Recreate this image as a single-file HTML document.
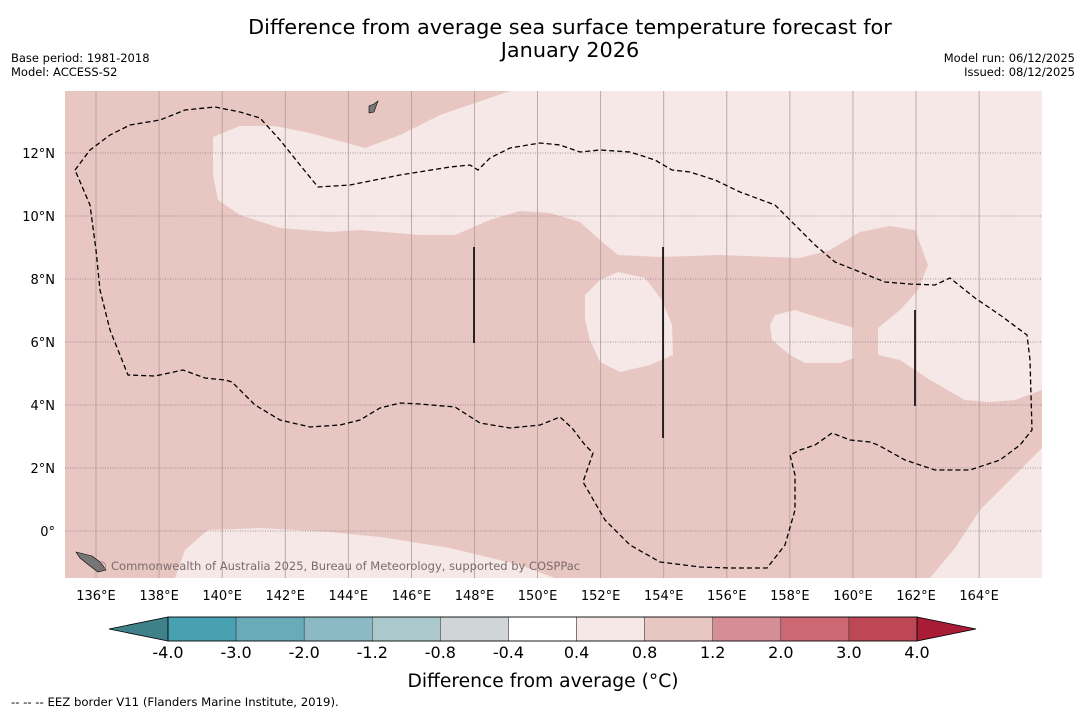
<!DOCTYPE html>
<html><head><meta charset="utf-8"><style>
body{margin:0;background:#fff;font-family:"DejaVu Sans","Liberation Sans",sans-serif;}
svg{display:block}
</style></head><body>
<svg width="1085" height="713" id="chart" font-family="DejaVu Sans, Liberation Sans, sans-serif">
<text x="570" y="34" font-size="20.8" text-anchor="middle">Difference from average sea surface temperature forecast for</text>
<text x="570" y="57" font-size="20.8" text-anchor="middle">January 2026</text>
<text x="11" y="62" font-size="11.5">Base period: 1981-2018</text>
<text x="11" y="76" font-size="11.5">Model: ACCESS-S2</text>
<text x="1075" y="62" font-size="11.5" text-anchor="end">Model run: 06/12/2025</text>
<text x="1075" y="76" font-size="11.5" text-anchor="end">Issued: 08/12/2025</text>
<g id="map"></g>
<g id="cbar"></g>
<text x="543" y="687" font-size="18.7" text-anchor="middle">Difference from average (°C)</text>
<text x="11" y="706" font-size="11.7">--  --  -- EEZ border V11 (Flanders Marine Institute, 2019).</text>
</svg>
<script>
const lonTicks=[136,138,140,142,144,146,148,150,152,154,156,158,160,162,164];
const latTicks=[0,2,4,6,8,10,12];
const cbarLevels=["-4.0","-3.0","-2.0","-1.2","-0.8","-0.4","0.4","0.8","1.2","2.0","3.0","4.0"];
const cbarColors=["#48a1b1","#69abb9","#8bb9c4","#abc9cd","#d0d5d7","#ffffff","#f5e8e6","#e8c7c3","#d68e96","#cb6873","#be4756"];
const lightRegionTop=[[213,137],[240,126],[275,126],[310,133],[365,148],[400,135],[440,115],[510,91],[1042,91],[1042,390],[1015,400],[990,402],[965,400],[930,380],[900,360],[878,355],[878,328],[900,310],[918,290],[928,265],[915,230],[890,226],[860,232],[830,250],[800,258],[720,255],[660,257],[618,255],[600,240],[580,222],[550,213],[520,211],[490,220],[455,235],[420,235],[360,230],[330,232],[280,228],[240,215],[218,200],[213,175]];
const lightIsland1=[[585,295],[600,280],[618,272],[645,278],[662,300],[672,325],[673,355],[650,365],[620,372],[600,362],[590,340],[585,320]];
const lightIsland2=[[770,325],[775,315],[795,310],[820,318],[854,328],[854,358],[840,363],[805,363],[790,355],[772,340]];
const lightBottomRight=[[1042,448],[1010,480],[980,510],[955,548],[930,578],[1042,578]];
const lightBottomLeft=[[175,578],[185,550],[208,530],[260,528],[330,532],[380,537],[450,548],[520,565],[555,578]];
const eez=[[75,170],[90,150],[110,135],[130,125],[160,120],[185,110],[215,107],[240,112],[260,118],[280,140],[300,165],[318,187],[350,185],[400,175],[450,167],[470,165],[478,170],[490,158],[510,148],[540,143],[560,145],[580,152],[600,150],[630,152],[655,160],[672,170],[690,172],[715,180],[740,192],[775,205],[800,230],[815,245],[835,262],[860,272],[885,282],[910,284],[935,285],[950,278],[975,298],[1000,315],[1027,335],[1030,360],[1032,430],[1020,445],[1000,460],[970,470],[935,470],[905,460],[878,445],[870,442],[850,440],[832,433],[815,445],[800,450],[790,455],[795,475],[795,510],[785,545],[767,568],[730,568],[700,567],[660,562],[630,545],[605,520],[583,482],[593,453],[585,445],[572,428],[560,417],[540,425],[510,428],[480,423],[455,407],[420,404],[400,403],[380,408],[360,420],[340,425],[310,427],[280,420],[255,405],[232,382],[225,380],[205,378],[183,370],[155,376],[128,375],[110,330],[100,290],[96,250],[90,205],[75,170]];
const NS="http://www.w3.org/2000/svg";
function mk(t,a,p){const e=document.createElementNS(NS,t);for(const k in a)e.setAttribute(k,a[k]);p.appendChild(e);return e;}
const X0=65,X1=1042,Y0=91,Y1=578;
function xOfLon(l){return 96+(l-136)*31.54;}
function yOfLat(l){return 531-l*31.5;}
const map=document.getElementById('map');
const bg=mk('rect',{x:X0,y:Y0,width:X1-X0,height:Y1-Y0,fill:"#e8c7c3"},map);


const pts=a=>a.map(p=>p.join(',')).join(' ');
[["light-region-north",lightRegionTop],["light-region-central",lightIsland1],["light-region-east",lightIsland2],["light-region-southeast",lightBottomRight],["light-region-southwest",lightBottomLeft]].forEach(([n,a])=>{
 const p=mk('polygon',{points:pts(a),fill:"#f5e8e6"},map);
 
 
});
lonTicks.forEach(l=>{
 const x=xOfLon(l);
 const g=mk('line',{x1:x,x2:x,y1:Y0,y2:Y1,stroke:"#b09a98","stroke-width":0.8},map);
 
 
 const t=mk('text',{x:x,y:600,"font-size":13,"text-anchor":"middle"},map);
 t.textContent=l+"°E";
 
 
});
latTicks.forEach(l=>{
 const y=yOfLat(l);
 const g=mk('line',{x1:X0,x2:X1,y1:y,y2:y,stroke:"#8a7e7c","stroke-width":0.8,"stroke-dasharray":"1,1.5"},map);
 
 
 const t=mk('text',{x:55,y:y+5,"font-size":13,"text-anchor":"end"},map);
 t.textContent=l===0?"0°":l+"°N";
 
 
});
const ez=mk('polyline',{points:pts(eez),fill:"none",stroke:"#000","stroke-width":1.3,"stroke-dasharray":"5,3"},map);


[[474,247,343],[663,247,438],[915,310,406]].forEach(([x,a,b])=>{
 const l=mk('line',{x1:x,x2:x,y1:a,y2:b,stroke:"#000","stroke-width":1.6},map);
 
 
});
const isl=mk('polygon',{points:"76,552 84,554 92,556 100,562 106,570 98,572 90,566 80,558",fill:"#777",stroke:"#000","stroke-width":0.6},map);


const isl2=mk('polygon',{points:"369,106 374,104 378,101 374,112 369,113",fill:"#777",stroke:"#000","stroke-width":0.6},map);


const cp=mk('text',{x:338,y:570,"font-size":11.5,fill:"#7a6c6b","text-anchor":"middle"},map);
cp.textContent="© Commonwealth of Australia 2025, Bureau of Meteorology, supported by COSPPac";


const cb=document.getElementById('cbar');
const cx0=168,cx1=917,cy=617,ch=24,n=cbarColors.length,w=(cx1-cx0)/n;
const lt=mk('polygon',{points:`${cx0},${cy} ${cx0},${cy+ch} 109,${cy+ch/2}`,fill:"#3e8188",stroke:"#000","stroke-width":0.8},cb);


const rt=mk('polygon',{points:`${cx1},${cy} ${cx1},${cy+ch} 976,${cy+ch/2}`,fill:"#a81c36",stroke:"#000","stroke-width":0.8},cb);


cbarColors.forEach((c,i)=>{
 const r=mk('rect',{x:cx0+i*w,y:cy,width:w,height:ch,fill:c,stroke:"#333","stroke-width":0.5},cb);
 
 
});
mk('rect',{x:cx0,y:cy,width:cx1-cx0,height:ch,fill:"none",stroke:"#000","stroke-width":0.8},cb);
cbarLevels.forEach((s,i)=>{
 const t=mk('text',{x:cx0+i*w,y:658,"font-size":16,"text-anchor":"middle"},cb);
 t.textContent=s;
 
 
});
</script>
</body></html>
